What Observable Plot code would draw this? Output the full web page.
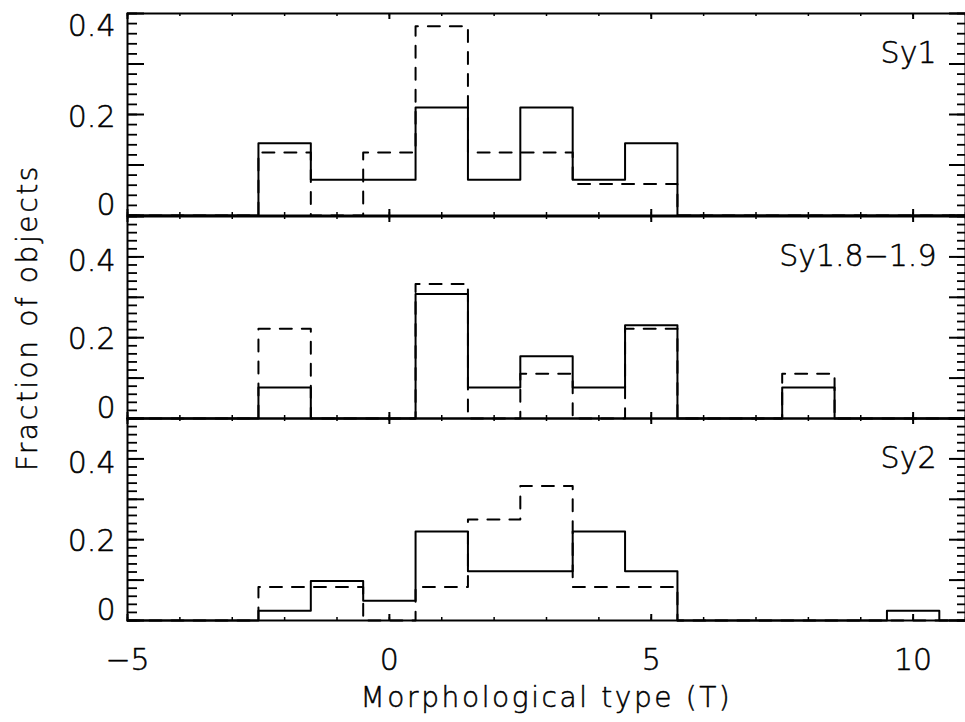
<!DOCTYPE html>
<html>
<head>
<meta charset="utf-8">
<script src="https://cdn.jsdelivr.net/npm/d3@7"></script>
<script src="https://cdn.jsdelivr.net/npm/@observablehq/plot@0.6"></script>
<style>
  html, body { margin: 0; padding: 0; background: #fff; overflow: hidden; }
  #chart { position: relative; width: 965px; height: 722px; }
  #chart svg { position: absolute; left: 0; top: 0; }
</style>
</head>
<body>
<div id="chart"></div>
<script>
// Morphological type T: one histogram bin per integer value
const types = [-5, -4, -3, -2, -1, 0, 1, 2, 3, 4, 5, 6, 7, 8, 9, 10, 11];

// Fraction of objects per bin (solid and dashed histograms)
const sy1Solid    = [0, 0, 0, 0.143, 0.071, 0.071, 0.214, 0.071, 0.214, 0.071, 0.143, 0, 0, 0, 0, 0, 0];
const sy1Dashed   = [0, 0, 0, 0.125, 0, 0.125, 0.375, 0.125, 0.125, 0.0625, 0.0625, 0, 0, 0, 0, 0, 0];
const sy18Solid   = [0, 0, 0, 0.077, 0, 0, 0.308, 0.077, 0.154, 0.077, 0.231, 0, 0, 0.077, 0, 0, 0];
const sy18Dashed  = [0, 0, 0, 0.222, 0, 0, 0.333, 0, 0.111, 0, 0.222, 0, 0, 0.111, 0, 0, 0];
const sy2Solid    = [0, 0, 0, 0.024, 0.098, 0.049, 0.220, 0.122, 0.122, 0.220, 0.122, 0, 0, 0, 0, 0.024, 0];
const sy2Dashed   = [0, 0, 0, 0.083, 0.083, 0, 0.083, 0.25, 0.333, 0.083, 0.083, 0, 0, 0, 0, 0, 0];

const panelNames = ["Sy1", "Sy1.8\u22121.9", "Sy2"];
const xTickValues = [-5, 0, 5, 10];
const yTickValues = [0, 0.2, 0.4];
const yTickLabels = ["0", "0.2", "0.4"];
const xTitle = "Morphological type (T)";
const yTitle = "Fraction of objects";

const W = 965, H = 722, ML = 127, MR = 0;
const font = {fontFamily: "'DejaVu Sans', sans-serif", fontWeight: 200, fontSize: "30px"};
const ink = {fill: "black", stroke: "black", strokeWidth: 0.5};
const fmt = d => d < 0 ? "\u2212" + (-d) : String(d);

const panels = [
  {name: panelNames[0], solid: sy1Solid,  dashed: sy1Dashed,  yMax: 0.4, top: 13,  bottom: 215, labelDy: [-10, 3, 13]},
  {name: panelNames[1], solid: sy18Solid, dashed: sy18Dashed, yMax: 0.5, top: 216, bottom: 418, labelDy: [-10, 2, 4], yTitle: true},
  {name: panelNames[2], solid: sy2Solid,  dashed: sy2Dashed,  yMax: 0.5, top: 418, bottom: 620, labelDy: [-10, 2, 4], xAxis: true}
];

const chart = document.getElementById("chart");

for (const p of panels) {
  const plotW = W - ML - MR, plotH = p.bottom - p.top;
  const solidRows = types.map((t, i) => ({t, f: p.solid[i]}));
  const dashedRows = types.map((t, i) => ({t, f: p.dashed[i]}));
  const yMajor = d3.range(0, p.yMax + 1e-9, 0.1);
  const yMinor = d3.range(0, p.yMax + 1e-9, 0.02);
  const xMajor = d3.range(-5, 11.001, 5);
  const xMinor = d3.range(-5, 11.001, 1);

  const marks = [
    // histograms drawn as step outlines centred on each integer type
    Plot.line(solidRows, {x: "t", y: "f", curve: "step", stroke: "black", strokeWidth: 2}),
    Plot.line(dashedRows, {x: "t", y: "f", curve: "step", stroke: "black", strokeWidth: 2, strokeDasharray: "12,10"}),
    // inward-pointing ticks on all four sides
    Plot.ruleY(yMajor, {insetRight: plotW - 17, stroke: "black", strokeWidth: 2}),
    Plot.ruleY(yMinor, {insetRight: plotW - 10, stroke: "black", strokeWidth: 1.8}),
    Plot.ruleY(yMajor, {insetLeft: plotW - 16, stroke: "black", strokeWidth: 2}),
    Plot.ruleY(yMinor, {insetLeft: plotW - 8, stroke: "black", strokeWidth: 1.8}),
    Plot.ruleX(xMajor, {insetBottom: plotH - 6, stroke: "black", strokeWidth: 2}),
    Plot.ruleX(xMinor, {insetBottom: plotH - 3, stroke: "black", strokeWidth: 1.5}),
    Plot.ruleX(xMajor, {insetTop: plotH - 6, stroke: "black", strokeWidth: 2}),
    Plot.ruleX(xMinor, {insetTop: plotH - 3, stroke: "black", strokeWidth: 1.5}),
    Plot.frame({stroke: "black", strokeWidth: 2}),
    // panel name
    Plot.text([p.name], {frameAnchor: "top-right", textAnchor: "end", lineAnchor: "middle", dx: -29, dy: 40, ...ink})
  ];

  // y tick labels
  yTickValues.forEach((v, i) => {
    marks.push(Plot.text([v], {y: d => d, text: () => yTickLabels[i], frameAnchor: "left", textAnchor: "end",
      lineAnchor: "middle", dx: -12, dy: p.labelDy[i], ...ink}));
  });

  if (p.yTitle) {
    marks.push(Plot.text([yTitle], {frameAnchor: "left", rotate: -90, textAnchor: "middle", lineAnchor: "middle",
      dx: -99, fontSize: 28, ...ink}));
  }
  if (p.xAxis) {
    marks.push(Plot.text(xTickValues, {x: d => d, y: () => 0, text: fmt, lineAnchor: "top", dy: 28, ...ink}));
    marks.push(Plot.text([xTitle], {frameAnchor: "bottom", lineAnchor: "middle", dy: 78, fontSize: 28, ...ink}));
  }

  const svg = Plot.plot({
    width: W, height: H,
    marginLeft: ML, marginRight: MR, marginTop: p.top, marginBottom: H - p.bottom,
    x: {domain: [-5, 11], axis: null},
    y: {domain: [0, p.yMax], axis: null},
    style: {...font, background: "transparent", overflow: "visible"},
    marks
  });

  // the axis titles are set a little wider than the tick labels
  d3.select(svg).selectAll("text")
    .filter(function () { return this.textContent === xTitle || this.textContent === yTitle; })
    .attr("letter-spacing", "2.6px");

  chart.appendChild(svg);
}
</script>
</body>
</html>
